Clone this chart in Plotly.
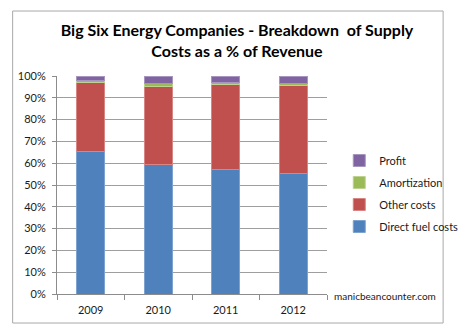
import plotly.graph_objects as go

# Supply cost breakdown, % of revenue
years = ["2009", "2010", "2011", "2012"]
direct_fuel = [65.5, 59.3, 57.2, 55.5]
other_costs = [31.7, 36.1, 38.8, 40.0]
amortization = [0.8, 1.0, 0.9, 0.9]
profit = [2.0, 3.6, 3.1, 3.6]

series = [
    ("Direct fuel costs", direct_fuel, "#4F81BD", "#7fa3d1"),
    ("Other costs", other_costs, "#C0504D", "#d88583"),
    ("Amortization", amortization, "#9BBB59", "#bdd38f"),
    ("Profit", profit, "#8064A2", "#a896c0"),
]

FONT = "Lato"

fig = go.Figure()
for i, (name, vals, col, edge) in enumerate(series):
    fig.add_trace(go.Bar(
        x=years, y=vals, name=name,
        marker=dict(color=col, line=dict(color=edge, width=1)),
        legendgroup=f"g{i}",
        legendrank=1000 - i,  # top segment listed first
    ))

# plot area in pixels: x 57..343, y 76..294
L, R, T, B = 57, 343, 76, 294
W, H = R - L, B - T

def px(x):
    return (x - L) / W

def py(y):
    return (B - y) / H

fig.update_layout(
    width=475, height=334,
    margin=dict(l=L, r=475 - R, t=T, b=334 - B),
    paper_bgcolor="white", plot_bgcolor="white",
    barmode="stack", bargap=0.59,
    font=dict(family=FONT, size=11, color="#1a1a1a"),
    title=dict(
        text="Big Six Energy Companies - Breakdown  of Supply<br>Costs as a % of Revenue",
        x=237 / 475, xref="container", xanchor="center",
        y=1 - 36 / 334, yref="container", yanchor="top",
        font=dict(family=FONT, size=16, color="black", weight="bold"),
    ),
    legend=dict(
        traceorder="grouped", tracegroupgap=3,
        x=px(356), xanchor="left", y=py(146), yanchor="top",
        font=dict(family=FONT, size=11, color="#1a1a1a"),
        bgcolor="rgba(0,0,0,0)",
    ),
    xaxis=dict(
        showline=True, linecolor="#8c8c8c", linewidth=1,
        ticks="outside", tickson="boundaries", ticklen=5, tickcolor="#8c8c8c",
        showgrid=False, tickfont=dict(size=11, color="#1a1a1a"),
        ticklabelstandoff=6,
    ),
    yaxis=dict(
        range=[0, 100], dtick=10, ticksuffix="%",
        showline=True, linecolor="#8c8c8c", linewidth=1,
        ticks="outside", ticklen=4, tickcolor="#8c8c8c",
        showgrid=True, gridcolor="#9e9e9e", gridwidth=1,
        zeroline=False, tickfont=dict(size=11, color="#1a1a1a"),
        ticklabelstandoff=4,
    ),
    shapes=[dict(
        type="rect", xref="paper", yref="paper",
        x0=px(10), x1=px(466), y0=py(323), y1=py(11),
        line=dict(color="#a8a8a8", width=1), layer="below",
    )],
    annotations=[dict(
        text="manicbeancounter.com", xref="paper", yref="paper",
        x=px(348), y=py(296), xanchor="left", yanchor="middle",
        showarrow=False, font=dict(family=FONT, size=10, color="#1a1a1a"),
    )],
)

fig.write_html("out.html")
